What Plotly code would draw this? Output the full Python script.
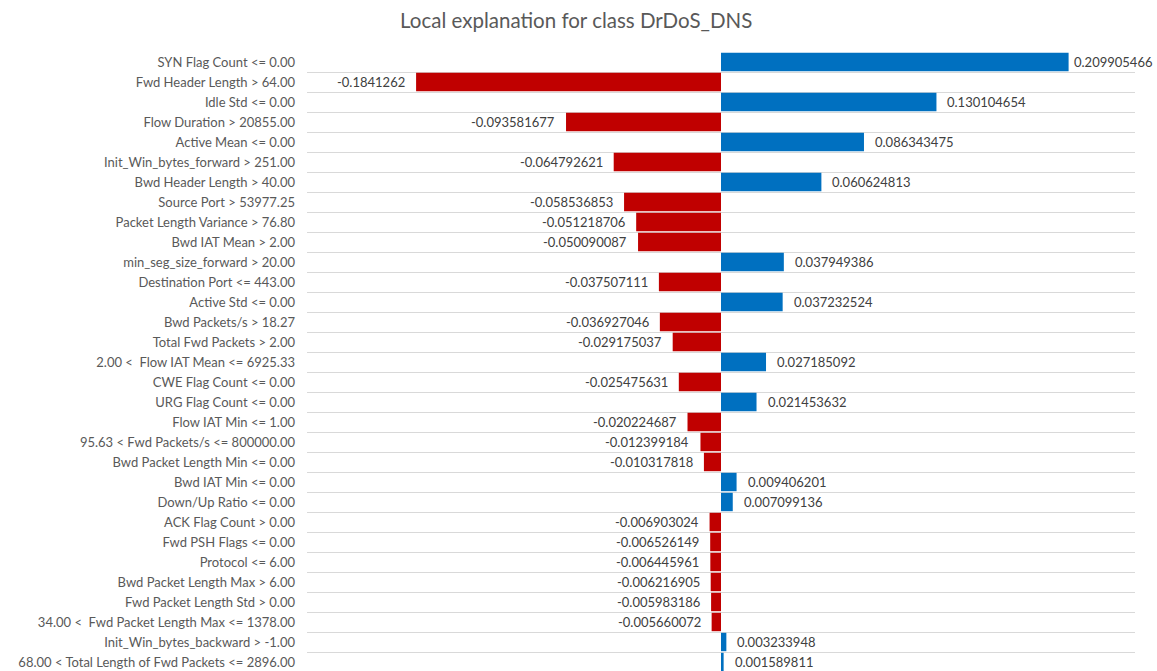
import plotly.graph_objects as go

title = "Local explanation for class DrDoS_DNS"

features = [
    "SYN Flag Count <= 0.00",
    "Fwd Header Length > 64.00",
    "Idle Std <= 0.00",
    "Flow Duration > 20855.00",
    "Active Mean <= 0.00",
    "Init_Win_bytes_forward > 251.00",
    "Bwd Header Length > 40.00",
    "Source Port > 53977.25",
    "Packet Length Variance > 76.80",
    "Bwd IAT Mean > 2.00",
    "min_seg_size_forward > 20.00",
    "Destination Port <= 443.00",
    "Active Std <= 0.00",
    "Bwd Packets/s > 18.27",
    "Total Fwd Packets > 2.00",
    "2.00 <\u00a0 Flow IAT Mean <= 6925.33",
    "CWE Flag Count <= 0.00",
    "URG Flag Count <= 0.00",
    "Flow IAT Min <= 1.00",
    "95.63 < Fwd Packets/s <= 800000.00",
    "Bwd Packet Length Min <= 0.00",
    "Bwd IAT Min <= 0.00",
    "Down/Up Ratio <= 0.00",
    "ACK Flag Count > 0.00",
    "Fwd PSH Flags <= 0.00",
    "Protocol <= 6.00",
    "Bwd Packet Length Max > 6.00",
    "Fwd Packet Length Std > 0.00",
    "34.00 <\u00a0 Fwd Packet Length Max <= 1378.00",
    "Init_Win_bytes_backward > -1.00",
    "68.00 < Total Length of Fwd Packets <= 2896.00",
]

weights = [
    0.209905466, -0.1841262, 0.130104654, -0.093581677, 0.086343475,
    -0.064792621, 0.060624813, -0.058536853, -0.051218706, -0.050090087,
    0.037949386, -0.037507111, 0.037232524, -0.036927046, -0.029175037,
    0.027185092, -0.025475631, 0.021453632, -0.020224687, -0.012399184,
    -0.010317818, 0.009406201, 0.007099136, -0.006903024, -0.006526149,
    -0.006445961, -0.006216905, -0.005983186, -0.005660072, 0.003233948,
    0.001589811,
]

POS_COLOR = "#0070C0"
NEG_COLOR = "#C00000"
FONT = "Lato"

colors = [POS_COLOR if w > 0 else NEG_COLOR for w in weights]

fig = go.Figure(
    go.Bar(
        x=weights,
        y=features,
        orientation="h",
        marker=dict(color=colors, line=dict(width=0)),
        width=0.92,
        hoverinfo="x+y",
    )
)

annotations = []
for f, w in zip(features, weights):
    pos = w > 0
    annotations.append(
        dict(
            x=w,
            y=f,
            xref="x",
            yref="y",
            text=repr(w),
            showarrow=False,
            xanchor="left" if pos else "right",
            xshift=(3 if w > 0.2 else 9) if pos else -9,
            font=dict(family=FONT, size=13, color="#404040"),
        )
    )

fig.update_layout(
    width=1157,
    height=671,
    margin=dict(l=307, r=22, t=52, b=0),
    paper_bgcolor="white",
    plot_bgcolor="white",
    showlegend=False,
    title=dict(
        text=title,
        x=0.498,
        xref="container",
        xanchor="center",
        y=1 - 21 / 671,
        yref="container",
        yanchor="middle",
        font=dict(family=FONT, size=20.5, color="#595959"),
    ),
    xaxis=dict(
        range=[-0.25, 0.25],
        visible=False,
        showgrid=False,
        zeroline=False,
    ),
    yaxis=dict(
        type="category",
        range=[30.45, -0.5],
        tickson="boundaries",
        showgrid=True,
        gridcolor="#D9D9D9",
        gridwidth=1.3,
        showline=False,
        zeroline=False,
        ticks="",
        ticklabelstandoff=11,
        tickfont=dict(family=FONT, size=13, color="#595959"),
    ),
    annotations=annotations,
)

fig.write_html("out.html")
